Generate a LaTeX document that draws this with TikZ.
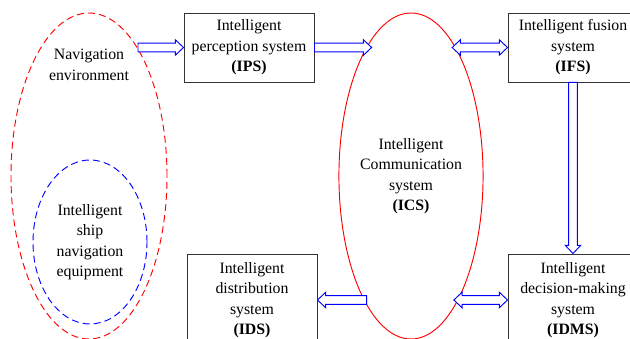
\documentclass[tikz,border=0pt]{standalone}
\usepackage{fontspec}
\setmainfont{Liberation Serif}
\usetikzlibrary{shapes.geometric,calc}

\begin{document}
\begin{tikzpicture}
    [
    every node/.style={font=\fontsize{13.5}{17.5}\selectfont, align=center},
    box/.style={rectangle,draw=black!80,line width=0.8pt,inner sep=0pt,minimum width=39mm},
    region/.style={ellipse,draw=red,line width=0.8pt,inner sep=0pt},
    % hollow block arrow, one head
    hollow/.style={draw=blue,line width=0.8pt,fill=white,
      to path={let \p1=(\tikztostart), \p2=(\tikztotarget),
        \n1={atan2(\y2-\y1,\x2-\x1)}, \n2={veclen(\x2-\x1,\y2-\y1)} in
        [shift={(\p1)}, rotate=\n1]
        (0pt,-3.8pt) -- (\n2-7pt,-3.8pt) -- (\n2-7pt,-6.6pt) -- (\n2,0pt)
        -- (\n2-7pt,6.6pt) -- (\n2-7pt,3.8pt) -- (0pt,3.8pt) -- cycle}},
    % hollow block arrow, both heads
    hollowboth/.style={draw=blue,line width=0.8pt,fill=white,
      to path={let \p1=(\tikztostart), \p2=(\tikztotarget),
        \n1={atan2(\y2-\y1,\x2-\x1)}, \n2={veclen(\x2-\x1,\y2-\y1)} in
        [shift={(\p1)}, rotate=\n1]
        (0pt,0pt) -- (7pt,6.6pt) -- (7pt,3.8pt) -- (\n2-7pt,3.8pt)
        -- (\n2-7pt,6.6pt) -- (\n2,0pt) -- (\n2-7pt,-6.6pt) -- (\n2-7pt,-3.8pt)
        -- (7pt,-3.8pt) -- (7pt,-6.6pt) -- cycle}},
    pipe/.style={draw=blue,line width=0.8pt,double=white,double distance=6pt}
    ]
    \useasboundingbox (0,0) rectangle (18.9,10.17);
    \clip (0,0) rectangle (18.9,10.17);

    % environment and on-board equipment
    \node (navenv) at (2.67,4.89) [region,dashed,dash pattern=on 6pt off 3.5pt,
      minimum width=46.8mm,minimum height=97.8mm] {};
    \node (navlabel) at (2.67,8.22) {Navigation\\environment};
    \node (equip) at (2.70,2.91) [region,draw=blue,dashed,dash pattern=on 6pt off 3.5pt,
      minimum width=34.2mm,minimum height=49.2mm] {Intelligent\\ship\\navigation\\equipment};

    % communication system
    \node (ics) at (12.33,4.89) [region,minimum width=38.4mm,minimum height=97.8mm]
      {Intelligent\\Communication\\system\\\textbf{(ICS)}};

    % subsystems
    \node (ips) at (7.47,8.745) [box,minimum height=20.7mm] {Intelligent\\perception system\\\textbf{(IPS)}};
    \node (ifs) at (17.19,8.745) [box,minimum height=20.7mm] {Intelligent fusion\\system\\\textbf{(IFS)}};
    \node (ids) at (7.56,1.17) [box,minimum height=27.6mm] {Intelligent\\distribution\\system\\\textbf{(IDS)}};
    \node (idms) at (17.19,1.17) [box,minimum height=27.6mm] {Intelligent\\decision-making\\system\\\textbf{(IDMS)}};

    % data flow
    \draw [hollow] (navenv.69.7 |- ips.west) to (ips.west);
    \draw [hollow] (ips.east) to (ips.east -| ics.106.9);
    \draw [hollowboth] (ifs.west -| ics.73.1) to (ifs.west);
    \draw [hollow] (ifs.south) to (idms.north);
    \draw [hollowboth] (idms.west -| ics.288.5) to (idms.west);
    \draw [hollow] (ids.east -| ics.251.5) to (ids.east);
    \draw [pipe] (navenv.292.2 |- ids.west) to (ids.west);
  \end{tikzpicture}
\end{document}
